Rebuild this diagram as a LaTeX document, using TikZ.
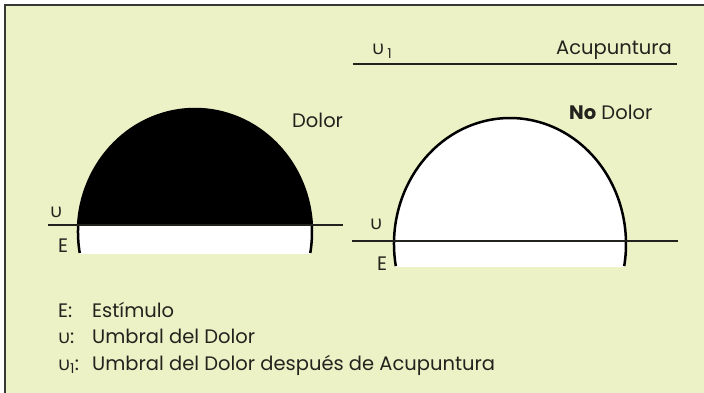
\documentclass[tikz,border=0pt]{standalone}
\usepackage{fontspec}
\setmainfont{Poppins}
\newfontfamily\greekfont{Open Sans}
\usetikzlibrary{positioning}
\definecolor{paper}{RGB}{236,242,198}
\definecolor{framegray}{RGB}{55,55,55}
\definecolor{ink}{RGB}{35,35,30}
\newcommand{\thr}{{\greekfont υ}}
\tikzset{
    lbl/.style={inner sep=0pt, font=\fontsize{19.5}{22}\selectfont, text=ink},
    legend/.style={lbl, anchor=base west},
    thrline/.style={line width=2pt, draw=ink},
    dome/.style={line width=2.5pt, draw=black}
}

\begin{document}
\begin{tikzpicture}[x=1pt, y=-1pt]
    \useasboundingbox (0,0) rectangle (704,393);
    \fill[white] (0,0) rectangle (704,393);
    \fill[paper] (5,5) rectangle (704,393);
    \draw[framegray, line width=2pt] (5,393) -- (5,5) -- (704,5);

    % left dome: pain
    \coordinate (lc) at (195,232);
    \begin{scope}
        \clip (0,0) rectangle (704,225);
        \fill[black] (lc) ellipse [x radius=117, y radius=123];
    \end{scope}
    \begin{scope}
        \clip (0,225) rectangle (704,253);
        \fill[white] (lc) ellipse [x radius=117, y radius=123];
    \end{scope}
    \draw[dome] (lc) ++(170.2:117 and 123) arc [start angle=170.2, end angle=369.8, x radius=117, y radius=123];
    \coordinate (ula) at (48,225);
    \coordinate (ulb) at (343,225);
    \draw[thrline] (ula) -- (ulb);
    \node[lbl, anchor=base west] (uleft) at (50,217) {\thr};
    \node[lbl, anchor=base west] (eleft) at (58,252) {E};
    \node[lbl, anchor=base west] (dolor) at (292,128) {Dolor};

    % right dome: no pain
    \coordinate (rc) at (510,244);
    \begin{scope}
        \clip (0,0) rectangle (704,266);
        \fill[white] (rc) ellipse [x radius=116, y radius=126];
    \end{scope}
    \draw[dome] (rc) ++(169.9:116 and 126) arc [start angle=169.9, end angle=370.1, x radius=116, y radius=126];
    \coordinate (ura) at (352,241);
    \coordinate (urb) at (678,241);
    \draw[thrline] (ura) -- (urb);
    \node[lbl, anchor=base west] (uright) at (370,229) {\thr};
    \node[lbl, anchor=base west] (eright) at (377,270) {E};
    \node[lbl, anchor=base west] (nodolor) at (569,120) {\textbf{No} Dolor};

    % threshold after acupuncture
    \coordinate (u1a) at (353,64);
    \coordinate (u1b) at (677,64);
    \draw[thrline, line width=2.5pt] (u1a) -- (u1b);
    \node[lbl, anchor=base west] (uone) at (372,55) {\thr\,\textsubscript{1}};
    \node[lbl, anchor=base east] (acup) at (672,55) {Acupuntura};

    % legend
    \node[legend] (keyE) at (58,317) {E:};
    \node[legend] (txtE) at (92,317) {Estímulo};
    \node[legend] (keyU) at (58,343) {\thr:};
    \node[legend] (txtU) at (92,343) {Umbral del Dolor};
    \node[legend] (keyUone) at (58,370) {\thr\textsubscript{1}:};
    \node[legend] (txtUone) at (92,370) {Umbral del Dolor después de Acupuntura};
\end{tikzpicture}
\end{document}
